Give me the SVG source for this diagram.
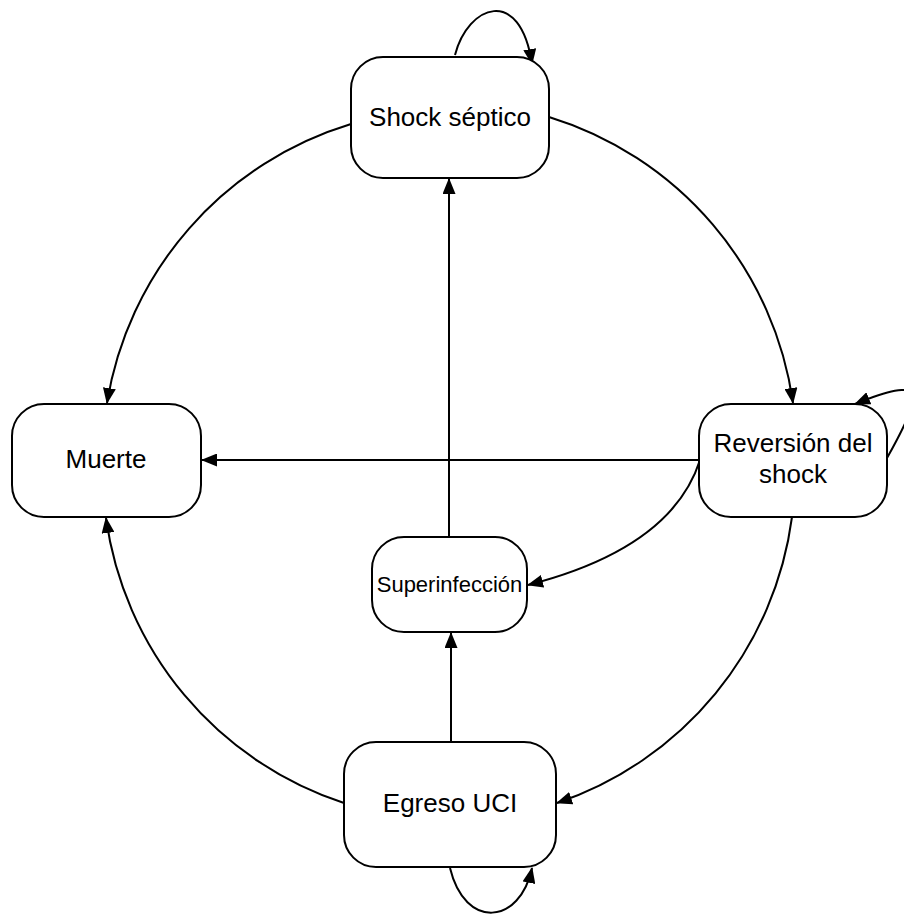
<svg xmlns="http://www.w3.org/2000/svg" width="904" height="916" viewBox="0 0 904 916">
<style>
.node rect{fill:#fff;stroke:#000;stroke-width:2}
.node text{font-family:"Liberation Sans",Arial,sans-serif;font-size:26px;fill:#000;text-anchor:middle}
.node text.small{font-size:22px}
#edges path{fill:none;stroke:#000;stroke-width:2;marker-end:url(#arr)}
</style>
<defs>
<marker id="arr" markerUnits="userSpaceOnUse" markerWidth="16" markerHeight="13" viewBox="0 0 16 13" refX="15" refY="6.5" orient="auto">
<path d="M0,0 L16,6.5 L0,13 z" fill="#000"/>
</marker>
</defs>
<rect width="904" height="916" fill="#fff"/>
<g id="edges">
<path d="M351 124 A350 350 0 0 0 107 403"/>
<path d="M549 117 A350 350 0 0 1 793 403"/>
<path d="M792 517 A350 350 0 0 1 557 803"/>
<path d="M344 803 A350 350 0 0 1 106 518"/>
<path d="M700 460 L202 460"/>
<path d="M449 537 L449 179"/>
<path d="M451 742 L451 633"/>
<path d="M700 460 Q672 548 528 585"/>
<path d="M455 55 C468 5 520 -15 532 64"/>
<path d="M450 868 C465 930 520 925 532 868"/>
<path d="M887 458 C925 390 925 375 855 404"/>
</g>
<g id="shock" class="node"><rect x="351" y="57" width="198" height="121" rx="32"/><text x="450" y="126">Shock séptico</text></g>
<g id="reversion" class="node"><rect x="699" y="404" width="188" height="113" rx="32"/><text x="793" y="452">Reversión del</text><text x="793" y="483">shock</text></g>
<g id="muerte" class="node"><rect x="12" y="404" width="189" height="113" rx="32"/><text x="106" y="468">Muerte</text></g>
<g id="superinfeccion" class="node"><rect x="372" y="537" width="155" height="95" rx="32"/><text class="small" x="449.5" y="592">Superinfección</text></g>
<g id="egreso" class="node"><rect x="344" y="742" width="212" height="125" rx="32"/><text x="450" y="812">Egreso UCI</text></g>
</svg>
